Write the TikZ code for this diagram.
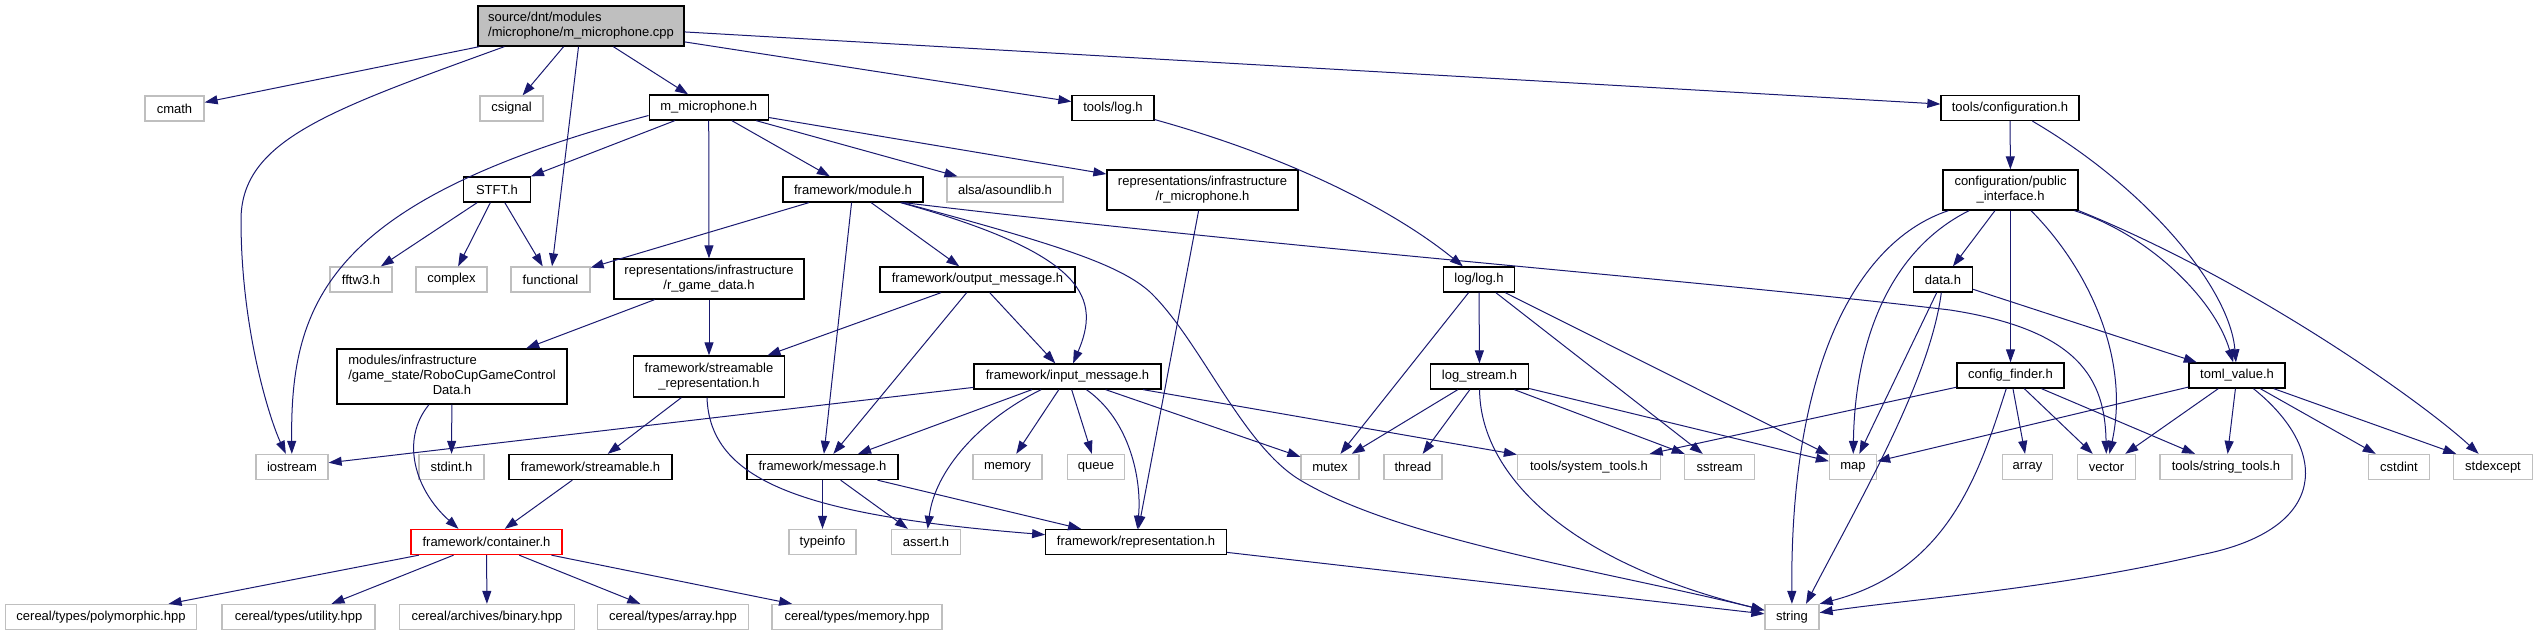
\documentclass[tikz,border=0pt]{standalone}
\usepackage{fontspec}
\setmainfont{Liberation Sans}
\usetikzlibrary{arrows.meta}
\definecolor{edgeblue}{HTML}{191970}
\definecolor{sysgray}{HTML}{BFBFBF}

\begin{document}
\begin{tikzpicture}[x=1pt,y=1pt,
  box/.style={rectangle,line width=1.3pt,minimum height=25,inner sep=2pt,fill=white,
    font=\fontsize{13}{15}\selectfont},
  hdr/.style={box,draw=black,minimum width=#1},
  sys/.style={box,draw=sysgray,minimum width=#1},
  dep/.style={draw=edgeblue,line width=1pt,-{Triangle[length=13pt,width=9pt]}}]
\useasboundingbox (0,0) rectangle (2538,-633);

\node[hdr=206,fill=sysgray,minimum height=40,align=left] (src) at (581,-26) {source/dnt/modules\\/microphone/m\_microphone.cpp};

\node[sys=59] (cmath) at (174.5,-108.5) {cmath};
\node[sys=63] (csignal) at (511.5,-108.5) {csignal};
\node[hdr=119] (mmic) at (708.7,-107.5) {m\_microphone.h};
\node[hdr=82] (toolslog) at (1113,-108) {tools/log.h};
\node[hdr=138] (toolsconf) at (2010,-108) {tools/configuration.h};

\node[hdr=67] (stft) at (497,-189.5) {STFT.h};
\node[hdr=140] (module) at (853,-189.5) {framework/module.h};
\node[sys=116] (alsa) at (1005,-189.5) {alsa/asoundlib.h};
\node[hdr=191,minimum height=40,align=center] (rmic) at (1202.5,-190) {representations/infrastructure\\/r\_microphone.h};
\node[hdr=135,minimum height=40,align=center] (pubint) at (2010.5,-190) {configuration/public\\\_interface.h};

\node[sys=62] (fftw) at (361,-279.5) {fftw3.h};
\node[sys=71] (complex) at (451.5,-279.5) {complex};
\node[sys=79] (functional) at (550.5,-279.5) {functional};
\node[hdr=190,minimum height=40,align=center] (rgame) at (709,-279) {representations/infrastructure\\/r\_game\_data.h};
\node[hdr=195] (output) at (977.5,-279.5) {framework/output\_message.h};
\node[hdr=71] (loglog) at (1479,-279.5) {log/log.h};
\node[hdr=58.5] (data) at (1943,-279.5) {data.h};

\node[hdr=230,minimum height=55] (robocup) at (452,-376.5) {\begin{tabular}{@{}l@{}}modules/infrastructure\\/game\_state/RoboCupGameControl\\\multicolumn{1}{@{}c@{}}{Data.h}\end{tabular}};
\node[hdr=151,minimum height=41,align=center] (streprep) at (709,-376.5) {framework/streamable\\\_representation.h};
\node[hdr=187] (input) at (1067.5,-376.5) {framework/input\_message.h};
\node[hdr=98] (logstream) at (1479.5,-376.5) {log\_stream.h};
\node[hdr=107] (cfinder) at (2010.5,-375.5) {config\_finder.h};
\node[hdr=96] (toml) at (2237,-375.5) {toml\_value.h};

\node[sys=72] (iostream) at (292,-467) {iostream};
\node[sys=65] (stdint) at (451.5,-467) {stdint.h};
\node[hdr=163] (streamable) at (590.5,-467) {framework/streamable.h};
\node[hdr=151] (message) at (822.5,-467) {framework/message.h};
\node[sys=69] (memory) at (1007.5,-467) {memory};
\node[sys=57] (queue) at (1096,-467) {queue};
\node[sys=58] (mutex) at (1330,-467) {mutex};
\node[sys=58] (thread) at (1413,-467) {thread};
\node[sys=143] (systools) at (1589,-467) {tools/system\_tools.h};
\node[sys=70] (sstream) at (1719.6,-467) {sstream};
\node[sys=47] (map) at (1853,-467) {map};
\node[sys=50] (array) at (2027.5,-467) {array};
\node[sys=58.5] (vector) at (2106.5,-467) {vector};
\node[sys=132] (strtools) at (2226,-467) {tools/string\_tools.h};
\node[sys=61] (cstdint) at (2399,-467) {cstdint};
\node[sys=79] (stdexcept) at (2493,-467) {stdexcept};

\node[box,draw=red,minimum width=151] (container) at (486.5,-542) {framework/container.h};
\node[sys=67] (typeinfo) at (822.5,-542) {typeinfo};
\node[sys=69] (assert) at (926,-542) {assert.h};
\node[hdr=180.5] (representation) at (1136,-542) {framework/representation.h};

\node[sys=191] (poly) at (101,-617) {cereal/types/polymorphic.hpp};
\node[sys=153] (utility) at (298.6,-617) {cereal/types/utility.hpp};
\node[sys=174.5] (binary) at (487,-617) {cereal/archives/binary.hpp};
\node[sys=151] (carray) at (673,-617) {cereal/types/array.hpp};
\node[sys=170] (cmemory) at (857,-617) {cereal/types/memory.hpp};
\node[sys=54] (string) at (1792,-617) {string};

\draw[dep] (src) -- (cmath);
\draw[dep] ([xshift=27]src.south west) .. controls (330,-110) and (241,-140) .. (241,-220) .. controls (241,-330) and (270,-420) .. (iostream);
\draw[dep] (src) -- (csignal);
\draw[dep] (src) -- (functional);
\draw[dep] (src) -- (mmic);
\draw[dep] (src) -- (toolslog);
\draw[dep] (src) -- (toolsconf);

\draw[dep] (mmic) -- (stft);
\draw[dep] ([yshift=-8]mmic.west) .. controls (330,-200) and (290,-300) .. (iostream);
\draw[dep] (mmic) -- (rgame);
\draw[dep] (mmic) -- (module);
\draw[dep] (mmic) -- (alsa);
\draw[dep] (mmic) -- (rmic);

\draw[dep] (stft) -- (fftw);
\draw[dep] (stft) -- (complex);
\draw[dep] (stft) -- (functional);

\draw[dep] (module) -- (functional);
\draw[dep] (module) -- (message);
\draw[dep] (module) -- (output);
\draw[dep] (module) .. controls (1090,-255) and (1100,-300) .. (input);
\draw[dep] (module) .. controls (1060,-245) and (1120,-265) .. (1150,-292) .. controls (1200,-340) and (1242,-445) .. (1300,-480) .. controls (1400,-540) and (1600,-570) .. (string);
\draw[dep] ([xshift=-20]module.south east) .. controls (1300,-250) and (1700,-280) .. (1950,-310) .. controls (2080,-330) and (2105,-380) .. (vector);

\draw[dep] (output) -- (streprep);
\draw[dep] (output) -- (message);
\draw[dep] (output) -- (input);
\draw[dep] (rgame) -- (robocup);
\draw[dep] (rgame) -- (streprep);
\draw[dep] (rmic) -- (representation);
\draw[dep] (toolslog) .. controls (1300,-160) and (1400,-215) .. (loglog);
\draw[dep] (toolsconf) -- (pubint);
\draw[dep] (toolsconf) .. controls (2150,-190) and (2230,-290) .. (toml);

\draw[dep] (robocup) .. controls (400,-440) and (415,-490) .. ([xshift=-28]container.north);
\draw[dep] (robocup) -- (stdint);
\draw[dep] (streprep) -- (streamable);
\draw[dep] ([xshift=-2]streprep.south) .. controls (710,-480) and (800,-515) .. (representation);
\draw[dep] (streamable) -- (container);
\foreach \t in {poly,utility,binary,carray,cmemory}
  \draw[dep] (container) -- (\t);

\draw[dep] (input) -- (iostream);
\draw[dep] (input) -- (message);
\draw[dep] (input) .. controls (980,-420) and (935,-470) .. (assert);
\draw[dep] (input) -- (memory);
\draw[dep] (input) -- (queue);
\draw[dep] (input) .. controls (1130,-420) and (1142,-480) .. (representation);
\draw[dep] (input) -- (mutex);
\draw[dep] (input) -- (systools);

\draw[dep] (message) -- (typeinfo);
\draw[dep] (message) -- (assert);
\draw[dep] (message) -- (representation);
\draw[dep] (representation) -- (string);

\draw[dep] (loglog) -- (mutex);
\draw[dep] (loglog) -- (logstream);
\draw[dep] (loglog) -- (sstream);
\draw[dep] (loglog) -- (map);
\draw[dep] (logstream) -- (mutex);
\draw[dep] (logstream) -- (thread);
\draw[dep] (logstream) -- (sstream);
\draw[dep] (logstream) -- (map);
\draw[dep] (logstream) .. controls (1480,-470) and (1560,-560) .. (string);

\draw[dep] (pubint) .. controls (1860,-240) and (1790,-360) .. (string);
\draw[dep] (pubint) .. controls (1890,-250) and (1855,-340) .. (map);
\draw[dep] (pubint) -- (data);
\draw[dep] (pubint) -- (cfinder);
\draw[dep] (pubint) .. controls (2090,-270) and (2130,-360) .. (vector);
\draw[dep] (pubint) .. controls (2150,-235) and (2215,-300) .. (toml);
\draw[dep] (pubint.south east) .. controls (2250,-280) and (2420,-400) .. (stdexcept);

\draw[dep] (data) -- (toml);
\draw[dep] (data) -- (map);
\draw[dep] (data) .. controls (1930,-380) and (1860,-500) .. ([xshift=14]string.north);

\draw[dep] (cfinder) .. controls (1980,-470) and (1950,-570) .. (string.north east);
\draw[dep] (cfinder) -- (array);
\draw[dep] (cfinder) -- (vector);
\draw[dep] (cfinder) -- (strtools);
\draw[dep] (cfinder) -- (systools);

\draw[dep] (toml) -- (map);
\draw[dep] (toml) -- (vector);
\draw[dep] (toml) -- (strtools);
\draw[dep] (toml) -- (cstdint);
\draw[dep] (toml) -- (stdexcept);
\draw[dep] (toml) .. controls (2330,-450) and (2330,-530) .. (2200,-555) .. controls (2050,-590) and (1900,-600) .. (string);
\end{tikzpicture}
\end{document}
